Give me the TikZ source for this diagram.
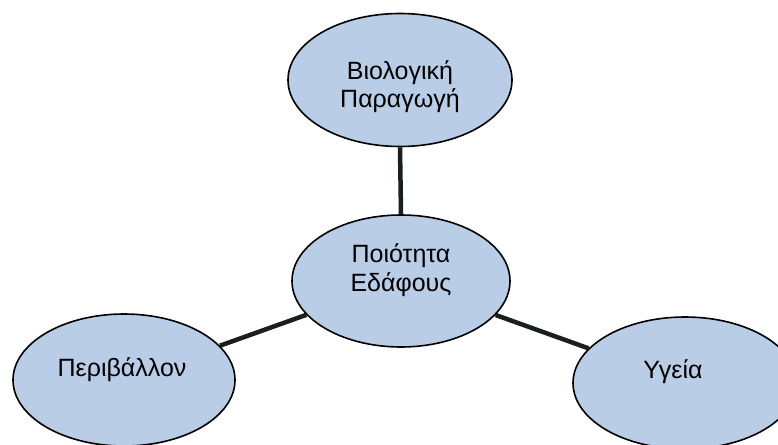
\documentclass[tikz,border=0pt]{standalone}
\usepackage{fontspec}
\setmainfont{Liberation Sans}
\usetikzlibrary{shapes.geometric,backgrounds}
\definecolor{blobfill}{RGB}{185,205,230}
\definecolor{linedark}{RGB}{25,30,30}
\begin{document}
\begin{tikzpicture}[x=1pt,y=-1pt,
  blob/.style={ellipse,draw=black,line width=1.6pt,fill=blobfill,inner sep=0pt},
  lbl/.style={font=\fontsize{25}{30}\selectfont,align=center,text=black,anchor=base,inner sep=0pt},
  link/.style={draw=linedark,line width=4.5pt}]
\useasboundingbox (0,0) rectangle (778,444);
\node[blob,minimum width=224pt,minimum height=133pt] (bio) at (400,80) {};
\node[blob,minimum width=218pt,minimum height=132pt] (soil) at (401,281) {};
\node[blob,minimum width=222pt,minimum height=132pt] (env) at (124,380) {};
\node[blob,minimum width=224pt,minimum height=132pt] (health) at (685,383) {};
\begin{scope}[on background layer]
\draw[link] (bio.south) -- (soil.north);
\draw[link] (env) -- (soil);
\draw[link] (soil) -- (health);
\end{scope}
\node[lbl] (t1) at (400,79) {Βιολογική};
\node[lbl] (t2) at (400,107) {Παραγωγή};
\node[lbl] (t3) at (401,262) {Ποιότητα};
\node[lbl] (t4) at (401,291) {Εδάφους};
\node[lbl] (t5) at (122,376) {Περιβάλλον};
\node[lbl] (t6) at (673,378) {Υγεία};
\end{tikzpicture}
\end{document}
